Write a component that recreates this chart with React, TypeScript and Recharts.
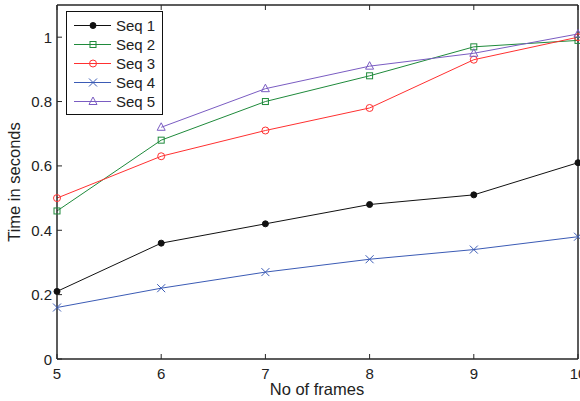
import React from 'react';
import { Line, LineChart, XAxis, YAxis } from 'recharts';

const frames = [5, 6, 7, 8, 9, 10];
const seq1 = [0.21, 0.36, 0.42, 0.48, 0.51, 0.61];
const seq2 = [0.46, 0.68, 0.8, 0.88, 0.97, 0.99];
const seq3 = [0.5, 0.63, 0.71, 0.78, 0.93, 1.0];
const seq4 = [0.16, 0.22, 0.27, 0.31, 0.34, 0.38];
const seq5 = [null, 0.72, 0.84, 0.91, 0.95, 1.01];
const xTicks = [5, 6, 7, 8, 9, 10];
const yTicks = [0, 0.2, 0.4, 0.6, 0.8, 1];

const data = frames.map((f, i) => ({
  frame: f,
  s1: seq1[i],
  s2: seq2[i],
  s3: seq3[i],
  s4: seq4[i],
  s5: seq5[i],
}));

const FONT = '"Liberation Sans", Arial, Helvetica, sans-serif';
const AXIS = '#262626';
const W = 580;
const H = 401;
const M = { top: 4, right: 1, left: 0, bottom: 0 };
const Y_W = 57;
const X_H = 42;
const LEFT = M.left + Y_W;
const RIGHT = W - M.right - 1;
const TOP = M.top + 1;
const BOTTOM = H - M.bottom - X_H;
const TICK = 5;

type Marker = 'dot' | 'square' | 'circle' | 'cross' | 'triangle';

const series: { key: string; name: string; color: string; marker: Marker }[] = [
  { key: 's1', name: 'Seq 1', color: '#111111', marker: 'dot' },
  { key: 's2', name: 'Seq 2', color: '#1f8a3b', marker: 'square' },
  { key: 's3', name: 'Seq 3', color: '#ff3030', marker: 'circle' },
  { key: 's4', name: 'Seq 4', color: '#3b5bb5', marker: 'cross' },
  { key: 's5', name: 'Seq 5', color: '#7a5cc2', marker: 'triangle' },
];

const drawMarker = (m: Marker, cx: number, cy: number, color: string, key?: any) => {
  switch (m) {
    case 'dot':
      return <circle key={key} cx={cx} cy={cy} r={3} fill={color} stroke={color} />;
    case 'square':
      return <rect key={key} x={cx - 3} y={cy - 3} width={6} height={6} fill="none" stroke={color} strokeWidth={1} />;
    case 'circle':
      return <circle key={key} cx={cx} cy={cy} r={3.5} fill="none" stroke={color} strokeWidth={1} />;
    case 'cross':
      return (
        <path key={key} d={`M${cx - 4},${cy - 4}L${cx + 4},${cy + 4}M${cx - 4},${cy + 4}L${cx + 4},${cy - 4}`} stroke={color} strokeWidth={1} fill="none" />
      );
    case 'triangle':
      return <path key={key} d={`M${cx},${cy - 4.5}L${cx + 4},${cy + 3}L${cx - 4},${cy + 3}Z`} fill="none" stroke={color} strokeWidth={1} />;
  }
};

const makeDot = (m: Marker, color: string) => (props: any) => {
  const { cx, cy, index, value } = props;
  if (cx == null || cy == null || value == null) return <g key={`e${index}`} />;
  return drawMarker(m, cx, cy, color, `d${index}`);
};

const fmt = (v: number) => String(v);

const BottomTick = (props: any) => {
  const x = props.payload.coordinate;
  return (
    <g>
      <line x1={x} x2={x} y1={BOTTOM} y2={BOTTOM - TICK} stroke={AXIS} />
      <text x={x} y={BOTTOM + 20} textAnchor="middle" fontSize={15} fontFamily={FONT} fill="#222">
        {props.payload.value}
      </text>
    </g>
  );
};

const TopTick = (props: any) => {
  const x = props.payload.coordinate;
  return <line x1={x} x2={x} y1={TOP} y2={TOP + TICK} stroke={AXIS} />;
};

const LeftTick = (props: any) => {
  const y = props.payload.coordinate;
  return (
    <g>
      <line x1={LEFT} x2={LEFT + TICK} y1={y} y2={y} stroke={AXIS} />
      <text x={LEFT - 5} y={y + 5.5} textAnchor="end" fontSize={15} fontFamily={FONT} fill="#222">
        {fmt(props.payload.value)}
      </text>
    </g>
  );
};

const RightTick = (props: any) => {
  const y = props.payload.coordinate;
  return <line x1={RIGHT} x2={RIGHT - TICK} y1={y} y2={y} stroke={AXIS} />;
};

const LegendBox = () => (
  <div
    style={{
      position: 'absolute',
      left: 66,
      top: 11,
      border: '1.5px solid #111',
      background: '#fff',
      width: 97,
      height: 104,
      padding: '4px 0 0 0',
      boxSizing: 'border-box',
    }}
  >
    {series.map((s) => (
      <div key={s.key} style={{ display: 'flex', alignItems: 'center', height: 19 }}>
        <svg width={46} height={19} style={{ display: 'block' }}>
          <line x1={7} x2={44} y1={9.5} y2={9.5} stroke={s.color} strokeWidth={1} />
          {drawMarker(s.marker, 26, 9.5, s.color)}
        </svg>
        <span style={{ fontFamily: FONT, fontSize: 15, color: '#222', marginLeft: 3, lineHeight: '19px' }}>{s.name}</span>
      </div>
    ))}
  </div>
);

export default function App() {
  return (
    <div style={{ position: 'absolute', left: 0, top: 0, width: W, height: H, background: '#fff' }}>
      <LineChart width={W} height={H} data={data} margin={M}>
        <XAxis
          xAxisId="b"
          dataKey="frame"
          type="number"
          domain={[5, 10]}
          ticks={xTicks}
          height={X_H}
          axisLine={{ stroke: AXIS, strokeWidth: 1.5 }}
          tickLine={false}
          tick={<BottomTick />}
          label={() => (
            <text x={317} y={395} textAnchor="middle" fontSize={16.5} fontFamily={FONT} fill="#222">
              No of frames
            </text>
          )}
        />
        <XAxis
          xAxisId="t"
          orientation="top"
          dataKey="frame"
          type="number"
          domain={[5, 10]}
          ticks={xTicks}
          height={1}
          axisLine={{ stroke: AXIS, strokeWidth: 1.5 }}
          tickLine={false}
          tick={<TopTick />}
        />
        <YAxis
          yAxisId="l"
          type="number"
          domain={[0, 1.1]}
          ticks={yTicks}
          width={Y_W}
          axisLine={{ stroke: AXIS, strokeWidth: 1.5 }}
          tickLine={false}
          tick={<LeftTick />}
          label={() => (
            <text
              x={20}
              y={182}
              textAnchor="middle"
              fontSize={16.5}
              fontFamily={FONT}
              fill="#222"
              transform="rotate(-90 20 182)"
            >
              Time in seconds
            </text>
          )}
        />
        <YAxis
          yAxisId="r"
          orientation="right"
          type="number"
          domain={[0, 1.1]}
          ticks={yTicks}
          width={1}
          axisLine={{ stroke: AXIS, strokeWidth: 1.5 }}
          tickLine={false}
          tick={<RightTick />}
        />
        {series.map((s) => (
          <Line
            key={s.key}
            xAxisId="b"
            yAxisId="l"
            dataKey={s.key}
            name={s.name}
            stroke={s.color}
            strokeWidth={1}
            type="linear"
            dot={makeDot(s.marker, s.color)}
            activeDot={false}
            isAnimationActive={false}
          />
        ))}
      </LineChart>
      <LegendBox />
    </div>
  );
}
